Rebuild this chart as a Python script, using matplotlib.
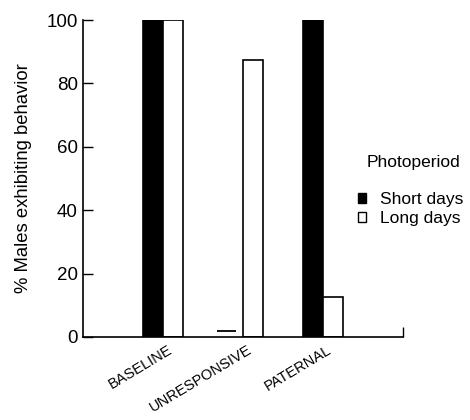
import numpy as np
import matplotlib.pyplot as plt
import matplotlib.transforms as mtransforms
from matplotlib.patches import Patch

categories = ['BASELINE', 'UNRESPONSIVE', 'PATERNAL']
short_days = [100, 2, 100]
long_days = [100, 87.5, 12.5]
yticks = [0, 20, 40, 60, 80, 100]

plt.rcParams['font.family'] = ['Liberation Sans', 'DejaVu Sans']

fig = plt.figure(figsize=(4.7, 4.2), dpi=100)
ax = fig.add_axes([0.177, 0.198, 0.68, 0.754])

x = np.arange(1, len(categories) + 1)
w = 0.25
sd = np.array(short_days, dtype=float)
small = sd < 5
# near-zero values show up only as a thin line in the original
ax.bar(x[~small] - w / 2, sd[~small], w, color='black', edgecolor='black', linewidth=1.2)
ax.hlines(sd[small], x[small] - w * 1.3, x[small] - w * 0.35, color='black', linewidth=1.3)
ax.bar(x + w / 2, long_days, w, color='white', edgecolor='black', linewidth=1.2)

ax.set_xlim(0, 4)
ax.set_ylim(0, 100)
ax.set_yticks(yticks)
ax.tick_params(axis='y', direction='in', length=7, width=1, labelsize=13.5, pad=4)
ax.set_xticks(x)
ax.set_xticklabels(categories, rotation=31, ha='right', rotation_mode='anchor', fontsize=10.5)
ax.tick_params(axis='x', length=0, pad=4)
shift = mtransforms.ScaledTranslation(4 / 100, 0, fig.dpi_scale_trans)
for lab in ax.get_xticklabels():
    lab.set_transform(lab.get_transform() + shift)
ax.set_xticks([4], minor=True)
ax.tick_params(axis='x', which='minor', direction='in', length=7, width=1)

for s in ['top', 'right']:
    ax.spines[s].set_visible(False)
for s in ['left', 'bottom']:
    ax.spines[s].set_linewidth(1.2)

ax.set_ylabel('% Males exhibiting behavior', fontsize=13.3, labelpad=10)

fig.text(414 / 470, 1 - 163 / 420, 'Photoperiod', ha='center', va='center', fontsize=12.5)
handles = [Patch(facecolor='black', edgecolor='black'),
           Patch(facecolor='white', edgecolor='black')]
fig.legend(handles, ['Short days', 'Long days'],
           loc='upper left', bbox_to_anchor=(358 / 470, 1 - 192 / 420), frameon=False,
           borderpad=0, borderaxespad=0,
           fontsize=12.5, handlelength=0.46, handleheight=0.46,
           handletextpad=0.8, labelspacing=0.25)

fig.savefig('out.png', dpi=100)
